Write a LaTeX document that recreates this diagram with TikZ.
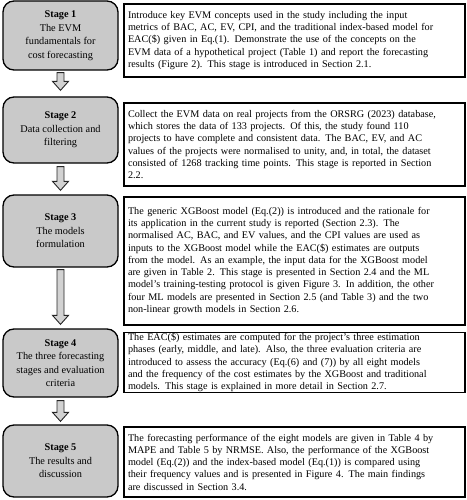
\documentclass[tikz,border=0pt]{standalone}
\usepackage{fontspec}
\setmainfont{Liberation Serif}
\usetikzlibrary{calc}
\definecolor{stagegray}{HTML}{C9C9C9}
\definecolor{arrowgray}{HTML}{D2D2D2}
\newcommand\blockarrow[4]{%
  \draw[flowarrow] ($(#1.south)+(-3.5,#3)$) -- ($(#2.north)+(-3.5,-#4-9)$)
    -- ($(#2.north)+(-8,-#4-9)$) -- ($(#2.north)+(0,-#4)$)
    -- ($(#2.north)+(8,-#4-9)$) -- ($(#2.north)+(3.5,-#4-9)$)
    -- ($(#1.south)+(3.5,#3)$) -- cycle;}
\begin{document}
\begin{tikzpicture}[x=1pt,y=-1pt,
  stagebox/.style={draw=black, line width=1.3pt, fill=stagegray, rounded corners=11pt,
    minimum width=115pt, align=center, font=\fontsize{10.3}{13.5}\selectfont, inner sep=0pt},
  descbox/.style={draw=black, line width=1.1pt, minimum width=341pt, text width=333pt,
    align=left, font=\fontsize{10.2}{12.25}\selectfont, inner xsep=4pt, inner ysep=0pt},
  flowarrow/.style={draw=black!85, line width=0.9pt, fill=arrowgray, line join=miter}]
\useasboundingbox (0,0) rectangle (466,500);
\fill[white] (0,0) rectangle (466,500);

\node[stagebox, minimum height=69pt] (s1) at (60.5,35.5)
  {\textbf{Stage 1}\\The EVM\\fundamentals for\\cost forecasting};
\node[stagebox, minimum height=66pt] (s2) at (60.5,130)
  {\textbf{Stage 2}\\Data collection and\\filtering};
\node[stagebox, minimum height=72pt] (s3) at (60.5,231)
  {\textbf{Stage 3}\\The models\\formulation};
\node[stagebox, minimum height=68pt] (s4) at (60.5,363)
  {\textbf{Stage 4}\\The three forecasting\\stages and evaluation\\criteria};
\node[stagebox, minimum height=72pt] (s5) at (60.5,461)
  {\textbf{Stage 5}\\The results and\\discussion};

\node[descbox, minimum height=73pt] (t1) at (294.5,40.5)
  {Introduce key EVM concepts used in the study including the input\\
   metrics of BAC, AC, EV, CPI, and the traditional index-based model for\\
   EAC(\$) given in Eq.(1). Demonstrate the use of the concepts on the\\
   EVM data of a hypothetical project (Table 1) and report the forecasting\\
   results (Figure 2). This stage is introduced in Section 2.1.};
\node[descbox, minimum height=83pt] (t2) at (294.5,144.5)
  {Collect the EVM data on real projects from the ORSRG (2023) database,\\
   which stores the data of 133 projects. Of this, the study found 110\\
   projects to have complete and consistent data. The BAC, EV, and AC\\
   values of the projects were normalised to unity, and, in total, the dataset\\
   consisted of 1268 tracking time points. This stage is reported in Section\\
   2.2.};
\node[descbox, minimum height=128pt] (t3) at (294.5,261)
  {The generic XGBoost model (Eq.(2)) is introduced and the rationale for\\
   its application in the current study is reported (Section 2.3). The\\
   normalised AC, BAC, and EV values, and the CPI values are used as\\
   inputs to the XGBoost model while the EAC(\$) estimates are outputs\\
   from the model. As an example, the input data for the XGBoost model\\
   are given in Table 2. This stage is presented in Section 2.4 and the ML\\
   model’s training-testing protocol is given Figure 3. In addition, the other\\
   four ML models are presented in Section 2.5 (and Table 3) and the two\\
   non-linear growth models in Section 2.6.};
\node[descbox, minimum height=60pt] (t4) at (294.5,362.5)
  {The EAC(\$) estimates are computed for the project’s three estimation\\
   phases (early, middle, and late). Also, the three evaluation criteria are\\
   introduced to assess the accuracy (Eq.(6) and (7)) by all eight models\\
   and the frequency of the cost estimates by the XGBoost and traditional\\
   models. This stage is explained in more detail in Section 2.7.};
\node[descbox, minimum height=70pt] (t5) at (294.5,462)
  {The forecasting performance of the eight models are given in Table 4 by\\
   MAPE and Table 5 by NRMSE. Also, the performance of the XGBoost\\
   model (Eq.(2)) and the index-based model (Eq.(1)) is compared using\\
   their frequency values and is presented in Figure 4. The main findings\\
   are discussed in Section 3.4.};

\blockarrow{s1}{s2}{2}{6}
\blockarrow{s2}{s3}{3}{4}
\blockarrow{s3}{s4}{2}{4}
\blockarrow{s4}{s5}{3}{3}
\end{tikzpicture}
\end{document}
